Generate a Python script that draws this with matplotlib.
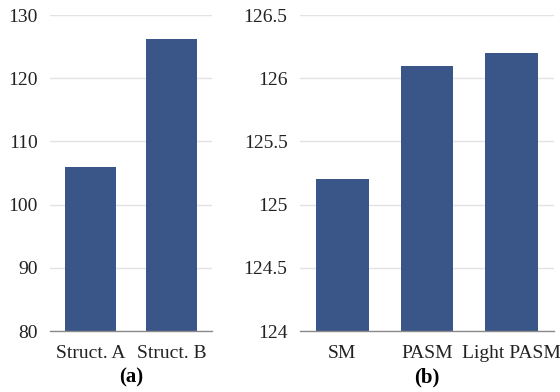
import numpy as np
import matplotlib
matplotlib.use("Agg")
import matplotlib.pyplot as plt

plt.rcParams['font.family'] = ['Liberation Serif', 'DejaVu Serif']

# (a) structures
struct_names = ['Struct. A', 'Struct. B']
struct_vals = [105.9, 126.2]

# (b) models
model_names = ['SM', 'PASM', 'Light PASM']
model_vals = [125.2, 126.1, 126.2]

bar_color = '#3a5688'
W, H = 560, 392

fig = plt.figure(figsize=(W / 100, H / 100), dpi=100)

def setup(ax, names, vals, ylim, yticks, yticklabels, width, tag):
    x = np.arange(len(names))
    ax.bar(x, vals, width=width, color=bar_color, zorder=3)
    ax.set_xlim(-0.5, len(names) - 0.5)
    ax.set_ylim(*ylim)
    ax.set_yticks(yticks)
    ax.set_yticklabels(yticklabels)
    ax.set_xticks(x)
    ax.set_xticklabels(names)
    ax.grid(axis='y', color='#e3e3e3', linewidth=1.0, zorder=0)
    for s in ['left', 'right', 'top']:
        ax.spines[s].set_visible(False)
    ax.spines['bottom'].set_color('#8a8a8a')
    ax.spines['bottom'].set_linewidth(1.0)
    ax.spines['bottom'].set_zorder(4)
    ax.tick_params(axis='both', length=0, labelsize=14, colors='#222222')
    ax.tick_params(axis='y', pad=9)
    ax.tick_params(axis='x', pad=10)
    ax.set_xlabel(tag, fontsize=15, fontweight='bold', labelpad=4)

ax1 = fig.add_axes([50 / W, 1 - 331 / H, 162 / W, 316 / H])
setup(ax1, struct_names, struct_vals, (80, 130),
      [80, 90, 100, 110, 120, 130], ['80', '90', '100', '110', '120', '130'],
      0.63, '(a)')

ax2 = fig.add_axes([300 / W, 1 - 331 / H, 254 / W, 316 / H])
setup(ax2, model_names, model_vals, (124, 126.5),
      [124, 124.5, 125, 125.5, 126, 126.5],
      ['124', '124.5', '125', '125.5', '126', '126.5'],
      0.62, '(b)')

fig.savefig('out.png', dpi=100)
